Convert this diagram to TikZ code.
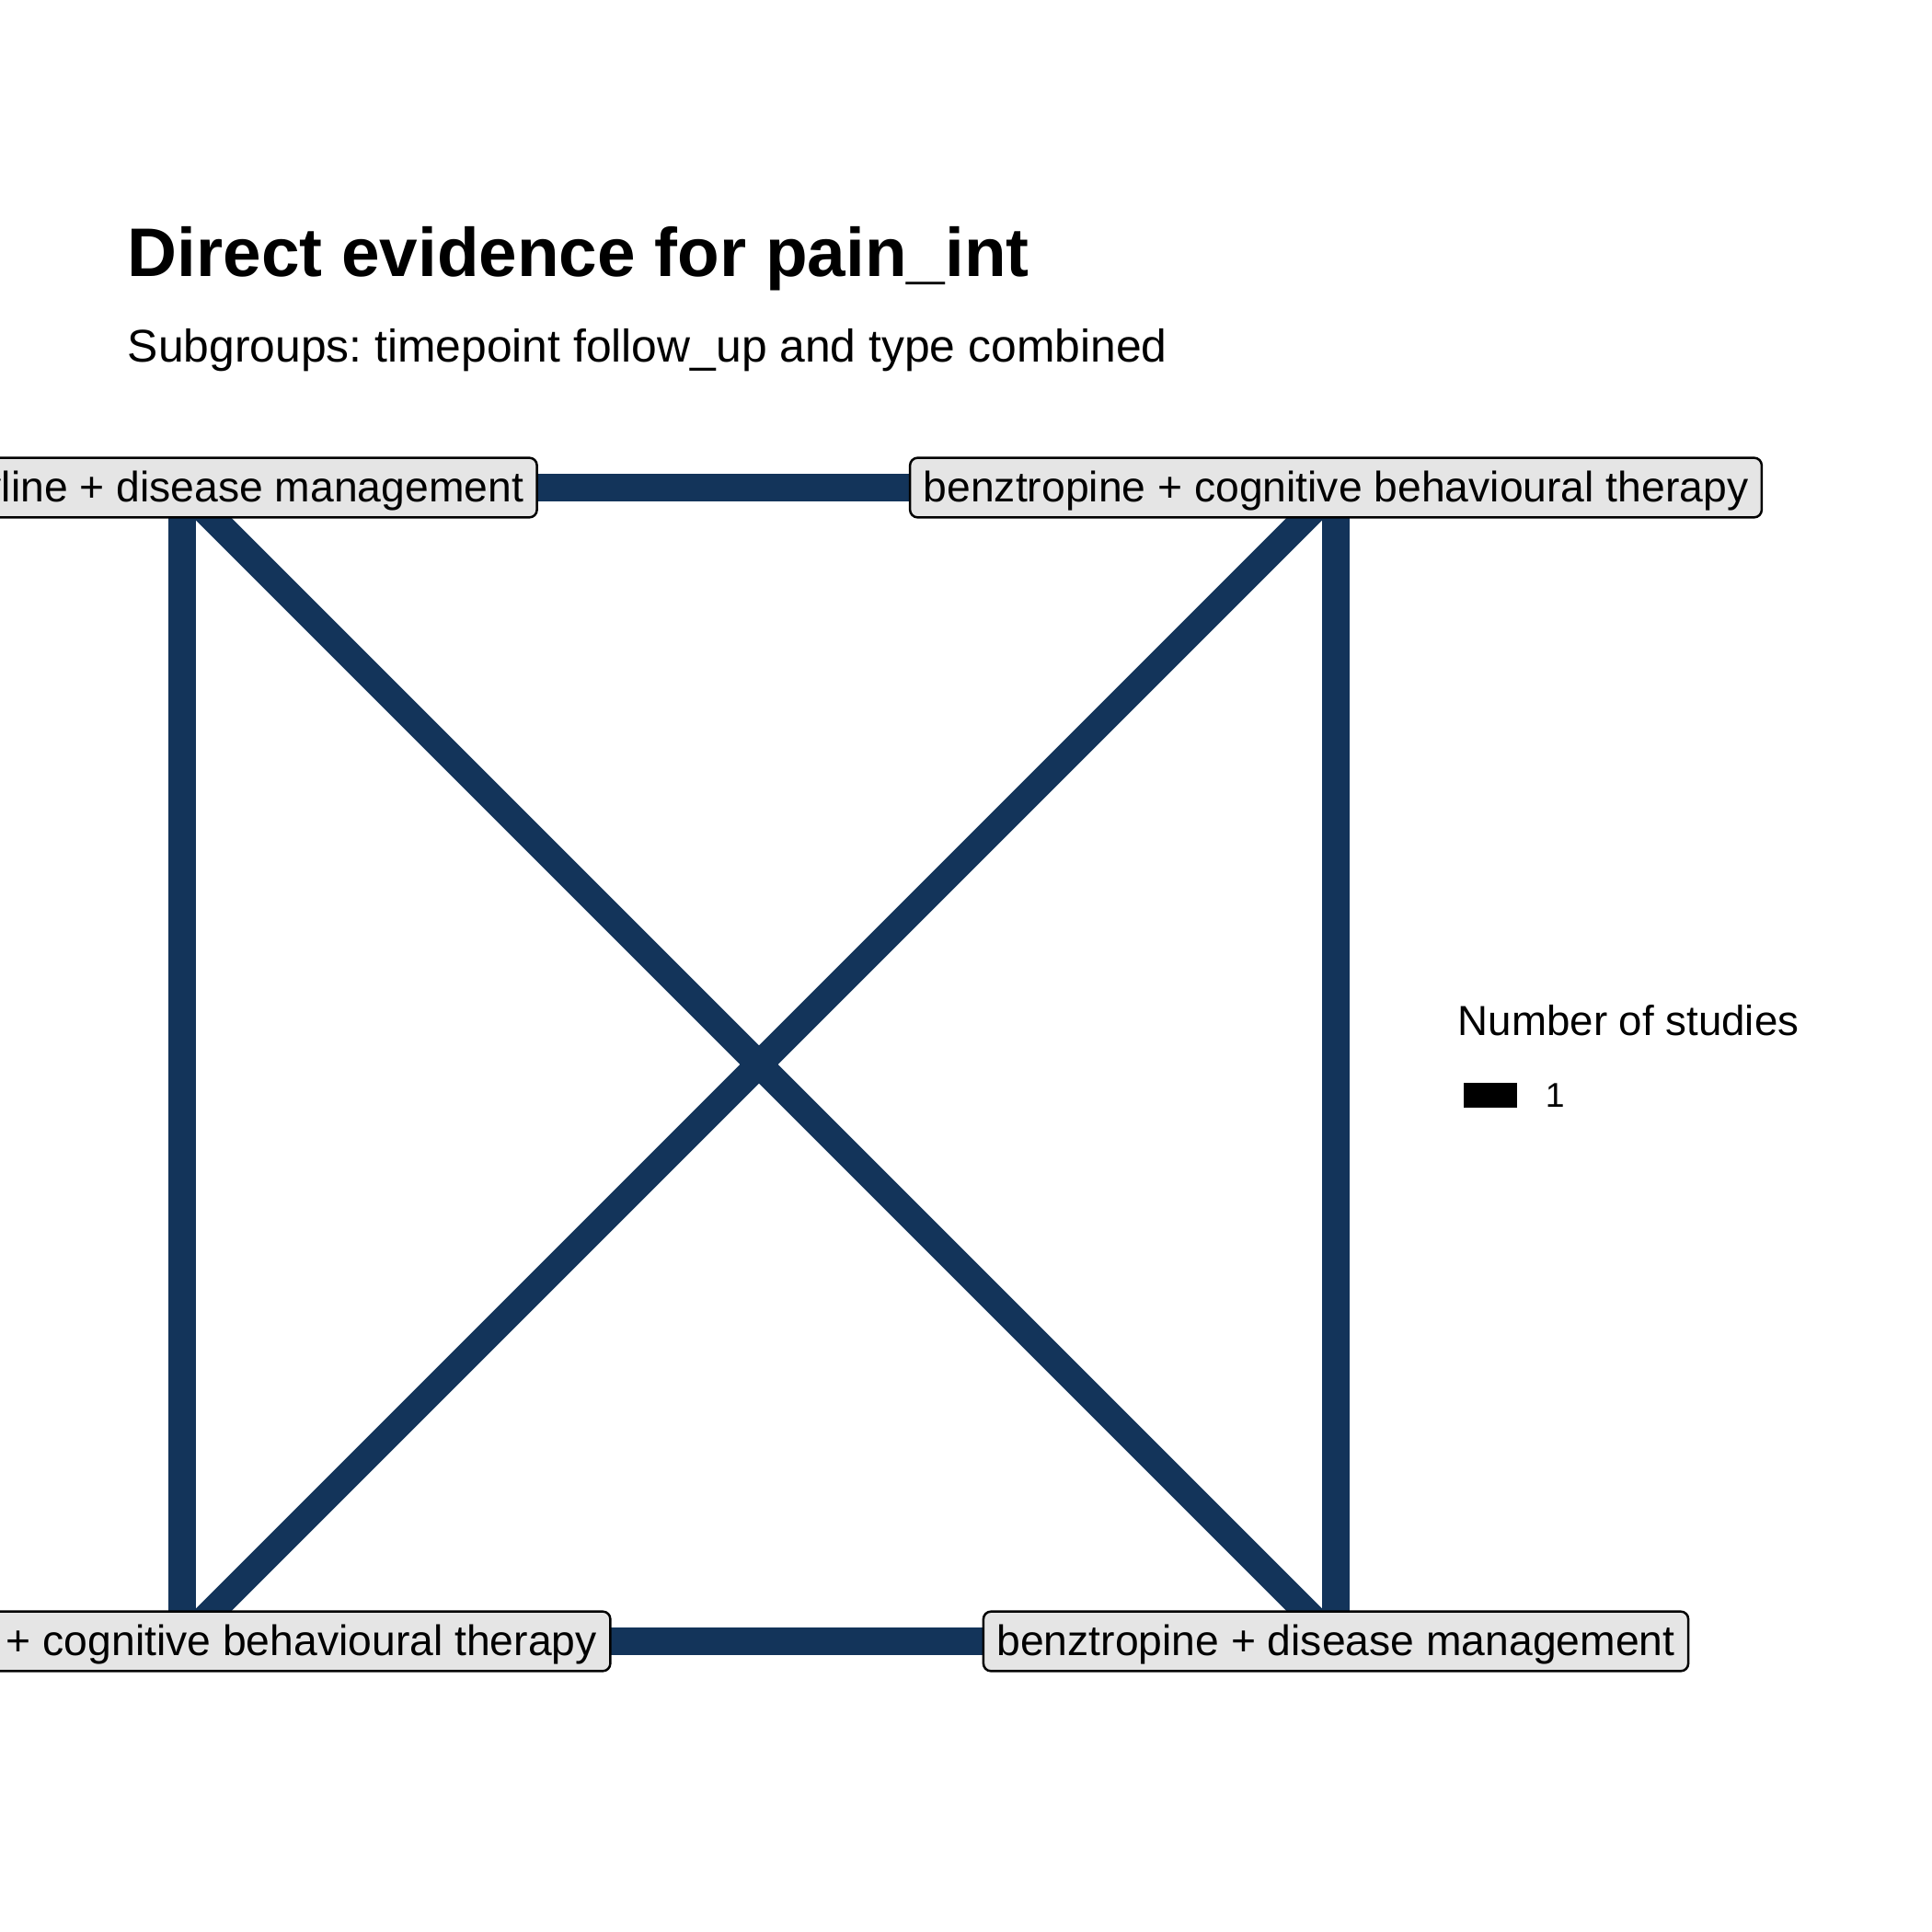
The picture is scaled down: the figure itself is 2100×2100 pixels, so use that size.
\documentclass[tikz,border=0pt]{standalone}
\usepackage{fontspec}
\setmainfont{Liberation Sans}
\frenchspacing
\definecolor{edgeblue}{RGB}{19,52,90}
\definecolor{labelgray}{RGB}{229,229,229}
\pgfdeclarelayer{bg}
\pgfsetlayers{bg,main}
\begin{document}
\begin{tikzpicture}[x=0.2409pt,y=-0.2409pt,
  edge/.style={line width=7pt, draw=edgeblue},
  trt/.style={draw=black, line width=0.6pt, fill=labelgray, rounded corners=2pt,
    font=\fontsize{11.15}{13}\selectfont, inner xsep=3.5pt, inner ysep=2.3pt,
    text height=9.2pt, text depth=1.8pt},
  ttl/.style={anchor=base west, inner sep=0pt, font=\fontsize{18}{22}\selectfont\bfseries},
  subttl/.style={anchor=base west, inner sep=0pt, font=\fontsize{12}{14}\selectfont},
  legttl/.style={anchor=base west, inner sep=0pt, font=\fontsize{11}{13}\selectfont},
  legtxt/.style={anchor=base west, inner sep=0pt, font=\fontsize{9}{11}\selectfont},
  keybox/.style={fill=black, draw=none, inner sep=0pt, minimum width=14pt, minimum height=6.5pt}]
\useasboundingbox (0,0) rectangle (2100,2100);
\clip (0,0) rectangle (2100,2100);

% titles
\node[ttl] (title) at (138,301) {Direct evidence for pain\_int};
\node[subttl] (subtitle) at (138,394) {Subgroups: timepoint follow\_up and type combined};

% treatments
\node[trt] (amidm) at (198,530) {amitriptyline + disease management};
\node[trt] (bencbt) at (1452,530) {benztropine + cognitive behavioural therapy};
\node[trt] (amicbt) at (198,1784) {amitriptyline + cognitive behavioural therapy};
\node[trt] (bendm) at (1452,1784) {benztropine + disease management};

% comparisons
\begin{pgfonlayer}{bg}
  \draw[edge] (amidm.center) -- (bencbt.center);
  \draw[edge] (amidm.center) -- (amicbt.center);
  \draw[edge] (amidm.center) -- (bendm.center);
  \draw[edge] (bencbt.center) -- (amicbt.center);
  \draw[edge] (bencbt.center) -- (bendm.center);
  \draw[edge] (amicbt.center) -- (bendm.center);
\end{pgfonlayer}

% legend
\node[legttl] (legtitle) at (1584,1125) {Number of studies};
\node[keybox] (key) at (1620,1190) {};
\node[legtxt] (keylab) at (1679,1203) {1};
\end{tikzpicture}
\end{document}
